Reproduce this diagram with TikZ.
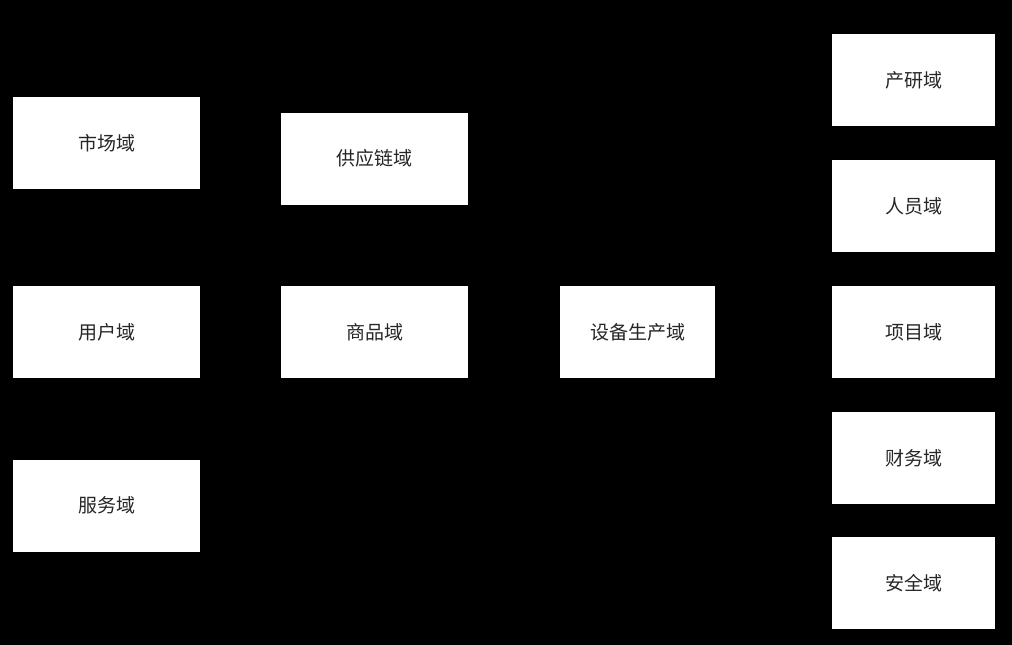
\documentclass[tikz,border=0pt]{standalone}
\usepackage{fontspec}
\setmainfont{Noto Sans CJK SC}
\usetikzlibrary{positioning}
\tikzset{
  fieldbox/.style={rectangle, fill=white, inner sep=0pt, minimum height=92pt,
    font=\fontsize{19}{21}\selectfont, text=black!85},
  widebox/.style={fieldbox, minimum width=187pt},
  smallbox/.style={fieldbox, minimum width=163pt}
}

\begin{document}
\begin{tikzpicture}[x=1pt, y=-1pt]
\fill[black] (0,0) rectangle (1012,645);
\useasboundingbox (0,0) rectangle (1012,645);
\coordinate (M) at (106.5,143);
\coordinate (U) at (106.5,332);
\coordinate (S) at (106.5,505.5);
\node at (M) [name=market, widebox] {市场域};
\node at (U) [name=user, widebox] {用户域};
\node at (S) [name=service, widebox] {服务域};
\node at (374.5,158.5) [name=supply, widebox] {供应链域};
\node at (374.5,332) [name=goods, widebox] {商品域};
\node at (637.5,332) [name=device, fieldbox, minimum width=155pt] {设备生产域};
\node at (913.5,80) [name=rnd, smallbox] {产研域};
\node at (913.5,206) [name=staff, smallbox] {人员域};
\node at (913.5,332) [name=project, smallbox] {项目域};
\node at (913.5,458) [name=finance, smallbox] {财务域};
\node at (913.5,583) [name=security, smallbox] {安全域};
\end{tikzpicture}
\end{document}
